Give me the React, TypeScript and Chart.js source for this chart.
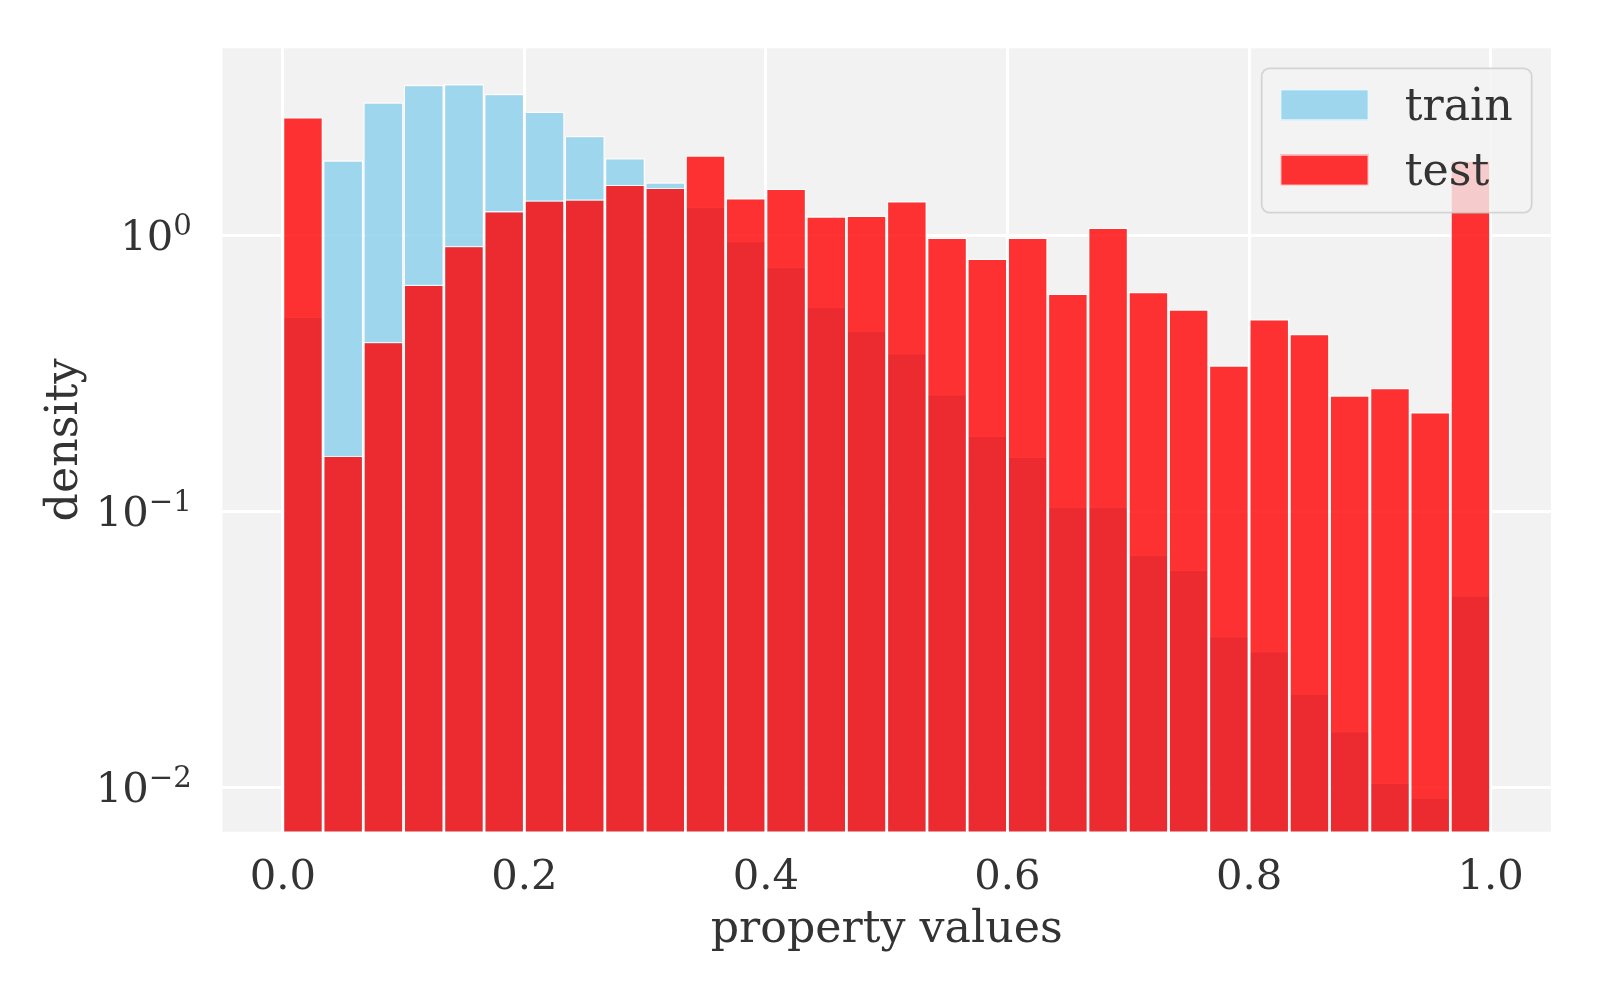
import { useEffect, useRef } from 'react';
import { Chart, registerables } from 'chart.js';

Chart.register(...registerables);

// histogram bins over [0, 1], 30 bins
const binCenters = [
  0.0167, 0.05, 0.0833, 0.1167, 0.15, 0.1833, 0.2167, 0.25, 0.2833, 0.3167,
  0.35, 0.3833, 0.4167, 0.45, 0.4833, 0.5167, 0.55, 0.5833, 0.6167, 0.65,
  0.6833, 0.7167, 0.75, 0.7833, 0.8167, 0.85, 0.8833, 0.9167, 0.95, 0.9833,
];

const trainDensity = [
  0.507, 1.867, 3.03, 3.504, 3.53, 3.25, 2.806, 2.292, 1.902, 1.554,
  1.266, 0.954, 0.768, 0.551, 0.451, 0.374, 0.266, 0.188, 0.158, 0.104,
  0.104, 0.0697, 0.0615, 0.0353, 0.0312, 0.0219, 0.016, 0.0104, 0.0092, 0.0496,
];

const testDensity = [
  2.676, 0.159, 0.411, 0.663, 0.915, 1.224, 1.338, 1.349, 1.524, 1.487,
  1.946, 1.364, 1.475, 1.171, 1.178, 1.33, 0.981, 0.823, 0.981, 0.615,
  1.066, 0.624, 0.539, 0.338, 0.497, 0.439, 0.263, 0.28, 0.229, 1.867,
];

const seriesNames = ['train', 'test'];
const xTickValues = [0, 0.2, 0.4, 0.6, 0.8, 1.0];
const xTickLabels = ['0.0', '0.2', '0.4', '0.6', '0.8', '1.0'];
const yTickValues = [0.01, 0.1, 1];
const yTickBase = '10';
const yTickExponents = ['−2', '−1', '0'];

const FONT_FAMILY = "'DejaVu Serif', serif";
const TICK_SIZE = 41.7;
const LABEL_SIZE = 44.3;
const TEXT_COLOR = '#333333';
const TRAIN_COLOR = 'rgba(135, 206, 235, 0.8)';
const TEST_COLOR = 'rgba(255, 0, 0, 0.8)';
const EDGE_COLOR = 'rgba(255, 255, 255, 0.8)';
const seriesColors = [TRAIN_COLOR, TEST_COLOR];

const plotBackground = {
  id: 'plotBackground',
  beforeDraw(chart: Chart) {
    const { ctx, chartArea: a } = chart;
    ctx.save();
    ctx.fillStyle = '#f2f2f2';
    ctx.fillRect(a.left, a.top, a.right - a.left, a.bottom - a.top);
    ctx.restore();
  },
};

// log tick labels as 10 with a raised exponent, like matplotlib mathtext
const powerTickLabels = {
  id: 'powerTickLabels',
  afterDraw(chart: Chart) {
    const { ctx } = chart;
    const scale = chart.scales.y;
    const right = chart.chartArea.left - 30.5;
    ctx.save();
    ctx.fillStyle = TEXT_COLOR;
    ctx.textBaseline = 'alphabetic';
    ctx.textAlign = 'right';
    yTickValues.forEach((v, i) => {
      const y = scale.getPixelForValue(v);
      ctx.font = `${TICK_SIZE * 0.7}px ${FONT_FAMILY}`;
      const expW = ctx.measureText(yTickExponents[i]).width;
      ctx.fillText(yTickExponents[i], right, y - 0.5);
      ctx.font = `${TICK_SIZE}px ${FONT_FAMILY}`;
      ctx.fillText(yTickBase, right - expW, y + 14.5);
    });
    ctx.restore();
  },
};

// matplotlib-style legend box inside the upper right corner
const insetLegend = {
  id: 'insetLegend',
  afterDraw(chart: Chart) {
    const { ctx, chartArea: a } = chart;
    const boxW = 270;
    const boxH = 144.4;
    const left = a.right - 19.3 - boxW;
    const top = a.top + 20;
    ctx.save();
    ctx.beginPath();
    ctx.roundRect(left, top, boxW, boxH, 8);
    ctx.fillStyle = 'rgba(242, 242, 242, 0.8)';
    ctx.fill();
    ctx.lineWidth = 1.8;
    ctx.strokeStyle = 'rgba(204, 204, 204, 0.8)';
    ctx.stroke();

    ctx.font = `${LABEL_SIZE}px ${FONT_FAMILY}`;
    ctx.textBaseline = 'middle';
    ctx.textAlign = 'left';
    seriesNames.forEach((name, i) => {
      const py = top + 20.7 + i * 65.3;
      ctx.fillStyle = seriesColors[i];
      ctx.fillRect(left + 18.3, py, 89, 31.7);
      ctx.lineWidth = 1.4;
      ctx.strokeStyle = EDGE_COLOR;
      ctx.strokeRect(left + 19, py + 0.7, 87.6, 30.3);
      ctx.fillStyle = TEXT_COLOR;
      ctx.fillText(name, left + 143, py + 19.5);
    });
    ctx.restore();
  },
};

export default function App() {
  const canvasRef = useRef<HTMLCanvasElement>(null);
  const chartRef = useRef<Chart | null>(null);

  useEffect(() => {
    if (!canvasRef.current) return;
    const ctx = canvasRef.current.getContext('2d');
    if (!ctx) return;

    if (chartRef.current) {
      chartRef.current.destroy();
    }

    const tickFont = { family: FONT_FAMILY, size: TICK_SIZE };
    const labelFont = { family: FONT_FAMILY, size: LABEL_SIZE };
    const barStyle = {
      borderColor: EDGE_COLOR,
      borderWidth: 1.4,
      borderSkipped: 'start' as const,
      grouped: false,
      barPercentage: 1,
      categoryPercentage: 1,
      inflateAmount: 0,
    };

    chartRef.current = new Chart(ctx, {
      type: 'bar',
      data: {
        datasets: [
          {
            label: seriesNames[0],
            data: binCenters.map((x, i) => ({ x, y: trainDensity[i] })),
            backgroundColor: TRAIN_COLOR,
            order: 2,
            ...barStyle,
          },
          {
            label: seriesNames[1],
            data: binCenters.map((x, i) => ({ x, y: testDensity[i] })),
            backgroundColor: TEST_COLOR,
            order: 1,
            ...barStyle,
          },
        ],
      },
      options: {
        responsive: true,
        maintainAspectRatio: false,
        animation: false,
        layout: { padding: { top: 48.3, right: 49, left: 0, bottom: 0 } },
        plugins: {
          legend: { display: false },
          tooltip: { enabled: false },
        },
        scales: {
          x: {
            type: 'linear',
            min: -0.05,
            max: 1.05,
            bounds: 'data',
            offset: false,
            afterBuildTicks: (scale) => {
              scale.ticks = xTickValues.map((value) => ({ value }));
            },
            afterFit: (scale) => {
              scale.height = 168.3;
              scale.paddingLeft = 0;
              scale.paddingRight = 0;
            },
            grid: { color: '#ffffff', lineWidth: 3, drawTicks: false, offset: false },
            border: { display: false },
            ticks: {
              color: TEXT_COLOR,
              font: tickFont,
              padding: 21,
              maxRotation: 0,
              autoSkip: false,
              callback: (_v, i) => xTickLabels[i],
            },
            title: {
              display: true,
              text: 'property values',
              color: TEXT_COLOR,
              font: labelFont,
              padding: { top: 0, bottom: 43.4 },
            },
          },
          y: {
            type: 'logarithmic',
            min: 0.006912,
            max: 4.754,
            bounds: 'data',
            afterBuildTicks: (scale) => {
              scale.ticks = yTickValues.map((value) => ({ value }));
            },
            afterFit: (scale) => {
              scale.width = 222.4;
              scale.paddingTop = 0;
              scale.paddingBottom = 0;
            },
            grid: { color: '#ffffff', lineWidth: 3, drawTicks: false },
            border: { display: false },
            ticks: { display: false },
            title: {
              display: true,
              text: 'density',
              color: TEXT_COLOR,
              font: labelFont,
              padding: { top: 38.7, bottom: 0 },
            },
          },
        },
      },
      plugins: [plotBackground, powerTickLabels, insetLegend],
    });

    return () => {
      if (chartRef.current) {
        chartRef.current.destroy();
        chartRef.current = null;
      }
    };
  }, []);

  return (
    <div style={{ position: 'absolute', left: 0, top: 0, width: 1600, height: 1000, background: '#ffffff' }}>
      <canvas ref={canvasRef} />
    </div>
  );
}
